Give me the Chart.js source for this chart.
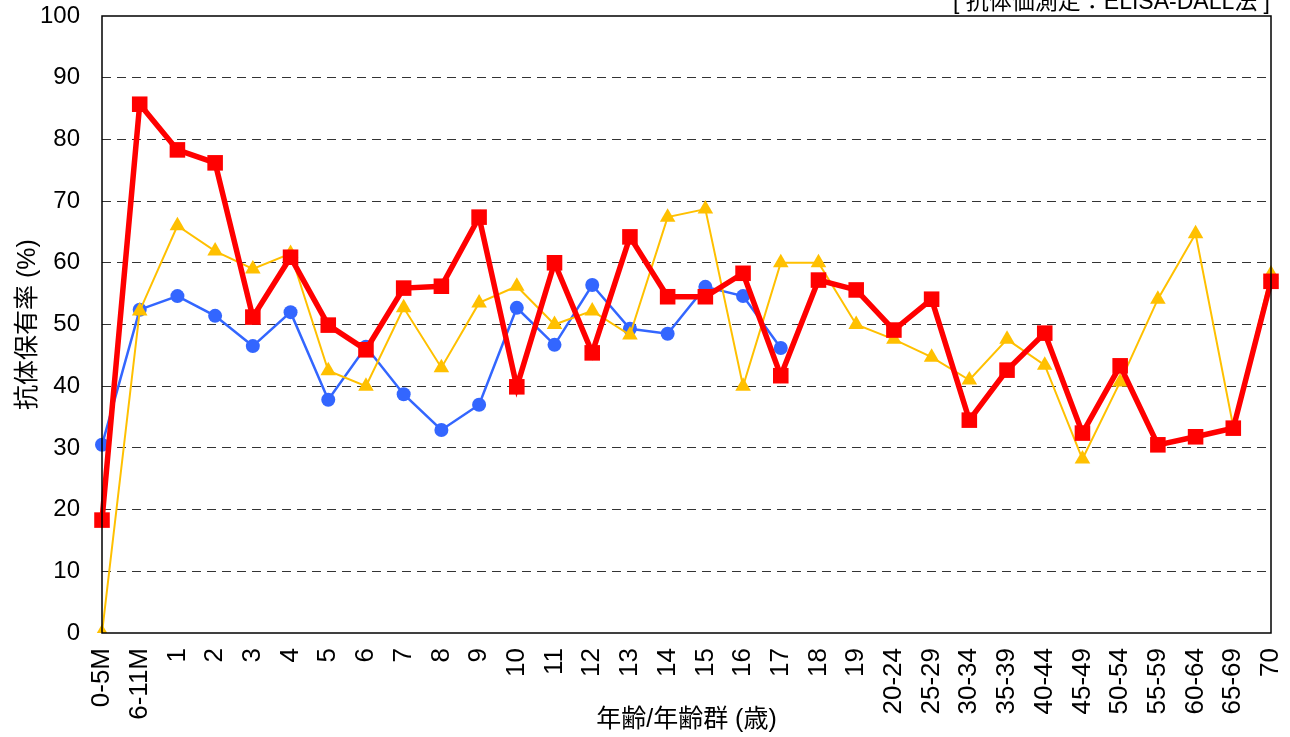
<!DOCTYPE html>
<html lang="ja">
<head>
    <meta charset="UTF-8">
    <title>抗体保有率</title>
    <script src="https://cdn.jsdelivr.net/npm/chart.js@4.4.1/dist/chart.umd.min.js"></script>
    <style>
        body {
            margin: 0;
            background: #fff;
            font-family: "Liberation Sans", Arial, "Noto Sans CJK JP", sans-serif;
        }
        .wrap {
            position: relative;
            width: 1290px;
            height: 737px;
            overflow: hidden;
        }
        .note {
            position: absolute;
            right: 20px;
            top: -18px;
            font-size: 23px;
            color: #000;
            white-space: nowrap;
        }
    </style>
</head>
<body>
    <div class="wrap">
        <div class="note">[ 抗体価測定：ELISA-DALL法 ]</div>
        <canvas id="chart" width="1290" height="737"></canvas>
    </div>

    <script>
        const ageLabels = ['0-5M', '6-11M', '1', '2', '3', '4', '5', '6', '7', '8', '9', '10',
            '11', '12', '13', '14', '15', '16', '17', '18', '19', '20-24', '25-29', '30-34',
            '35-39', '40-44', '45-49', '50-54', '55-59', '60-64', '65-69', '70'];

        // red squares (thick line)
        const redValues = [18.3, 85.7, 78.3, 76.2, 51.2, 60.9, 49.9, 45.9, 55.9, 56.2, 67.4, 39.9,
            60.0, 45.4, 64.2, 54.5, 54.5, 58.3, 41.7, 57.2, 55.6, 49.1, 54.1, 34.5,
            42.6, 48.6, 32.4, 43.3, 30.5, 31.8, 33.2, 57.0];

        // yellow triangles
        const yellowValues = [0, 52.2, 66.0, 61.9, 59.0, 61.5, 42.5, 40.0, 52.7, 43.0, 53.5, 56.2,
            50.0, 52.2, 48.3, 67.4, 68.7, 40.0, 60.0, 60.0, 50.0, 47.6, 44.7, 41.0,
            47.6, 43.4, 28.2, 40.7, 54.1, 64.7, 33.4, 58.2];

        // blue circles (only up to age 17)
        const blueValues = [30.5, 52.4, 54.6, 51.4, 46.5, 52.0, 37.8, 46.4, 38.7, 32.9, 37.0, 52.7,
            46.7, 56.4, 49.3, 48.5, 56.1, 54.6, 46.2];

        const yTicks = [0, 10, 20, 30, 40, 50, 60, 70, 80, 90, 100];

        const fontMain = '"Liberation Sans", Arial, "Noto Sans CJK JP", sans-serif';

        // draws the black box around the plot area
        const frame = {
            id: 'frame',
            afterDatasetsDraw(chart) {
                const a = chart.chartArea;
                const ctx = chart.ctx;
                ctx.save();
                ctx.strokeStyle = '#000';
                ctx.lineWidth = 1.5;
                ctx.strokeRect(a.left, a.top, a.right - a.left, a.bottom - a.top);
                ctx.restore();
            }
        };

        new Chart(document.getElementById('chart'), {
            type: 'line',
            data: {
                labels: ageLabels,
                datasets: [
                    {
                        label: 'red',
                        data: redValues,
                        borderColor: '#ff0000',
                        backgroundColor: '#ff0000',
                        borderWidth: 5.5,
                        pointStyle: 'rect',
                        pointRadius: 11,
                        pointBorderWidth: 0,
                        tension: 0
                    },
                    {
                        label: 'yellow',
                        data: yellowValues,
                        borderColor: '#ffc000',
                        backgroundColor: '#ffc000',
                        borderWidth: 2,
                        pointStyle: 'triangle',
                        pointRadius: 9,
                        pointBorderWidth: 0,
                        tension: 0
                    },
                    {
                        label: 'blue',
                        data: blueValues,
                        borderColor: '#3366ff',
                        backgroundColor: '#3366ff',
                        borderWidth: 2.5,
                        pointStyle: 'circle',
                        pointRadius: 7,
                        pointBorderWidth: 0,
                        tension: 0
                    }
                ]
            },
            options: {
                responsive: false,
                animation: false,
                layout: { padding: { left: 0, right: 19, top: 16, bottom: 0 } },
                plugins: {
                    legend: { display: false },
                    tooltip: { enabled: false }
                },
                scales: {
                    x: {
                        offset: false,
                        grid: { display: false, drawTicks: false },
                        border: { display: false },
                        ticks: {
                            autoSkip: false,
                            minRotation: 90,
                            maxRotation: 90,
                            padding: 15,
                            color: '#000',
                            font: { family: fontMain, size: 26 }
                        },
                        title: {
                            display: true,
                            text: '年齢/年齢群 (歳)',
                            color: '#000',
                            font: { family: fontMain, size: 25 },
                            padding: { top: 0, bottom: 2 }
                        },
                        afterFit(scale) {
                            scale.height = 104;
                            scale.paddingLeft = 0;
                            scale.paddingRight = 0;
                        }
                    },
                    y: {
                        min: 0,
                        max: 100,
                        afterBuildTicks(scale) {
                            scale.ticks = yTicks.map(v => ({ value: v }));
                        },
                        grid: {
                            drawTicks: false,
                            color: ctx => (ctx.tick && (ctx.tick.value === 0 || ctx.tick.value === 100)) ? 'rgba(0,0,0,0)' : '#333',
                            lineWidth: 1
                        },
                        border: { display: false, dash: [9, 6] },
                        ticks: {
                            padding: 22,
                            color: '#000',
                            font: { family: fontMain, size: 24 }
                        },
                        title: {
                            display: true,
                            text: '抗体保有率 (%)',
                            color: '#000',
                            font: { family: fontMain, size: 25 },
                            padding: { top: 13, bottom: 0 }
                        },
                        afterFit(scale) {
                            scale.width = 102;
                            scale.paddingTop = 0;
                            scale.paddingBottom = 0;
                        }
                    }
                }
            },
            plugins: [frame]
        });
    </script>
</body>
</html>
